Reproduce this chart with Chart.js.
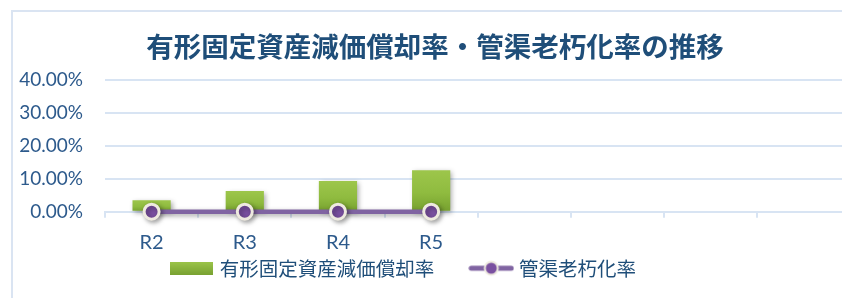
<!DOCTYPE html>
<html>
<head>
<meta charset="utf-8">
<script src="https://cdn.jsdelivr.net/npm/chart.js@4/dist/chart.umd.min.js"></script>
<style>
  html, body { margin: 0; padding: 0; background: #fff; overflow: hidden; }
  body { width: 842px; height: 298px; position: relative; }
  #box {
    position: absolute; left: 11px; top: 10px;
    border: 2px solid #DAE4F2; width: 848px; height: 290px;
  }
  canvas { display: block; }
</style>
</head>
<body>
<div id="box"><canvas id="rateChart" width="848" height="290"></canvas></div>
<script>
// categories (the chart keeps 4 empty slots on the right)
const categories = ['R2', 'R3', 'R4', 'R5', '', '', '', '']
// 有形固定資産減価償却率 (%)
const depreciationRate = [3.5, 6.3, 9.3, 12.6]
// 管渠老朽化率 (%)
const pipeAgingRate = [0, 0, 0, 0]
const yTickValues = [0, 10, 20, 30, 40]

const titleText = '有形固定資産減価償却率・管渠老朽化率の推移'
const barLabel = '有形固定資産減価償却率'
const lineLabel = '管渠老朽化率'

const navy = '#1F4E79'
const tickBlue = '#2D5A8C'
const gridBlue = '#D8E4F3'
const purple = '#8064A2'

// legend swatches drawn once
function makeBarSwatch() {
  const c = document.createElement('canvas')
  c.width = 43
  c.height = 13
  const g = c.getContext('2d')
  const grad = g.createLinearGradient(0, 0, 0, 13)
  grad.addColorStop(0, '#9CC54A')
  grad.addColorStop(1, '#79A232')
  g.fillStyle = grad
  g.fillRect(0, 0, 43, 13)
  return c
}
function makeLineSwatch() {
  const c = document.createElement('canvas')
  c.width = 46
  c.height = 18
  const g = c.getContext('2d')
  g.strokeStyle = purple
  g.lineWidth = 5
  g.lineCap = 'round'
  g.beginPath()
  g.moveTo(3, 9)
  g.lineTo(43, 9)
  g.stroke()
  g.beginPath()
  g.arc(23, 9, 6.5, 0, Math.PI * 2)
  g.fillStyle = '#7A50A0'
  g.fill()
  g.lineWidth = 2
  g.strokeStyle = '#EEEADF'
  g.stroke()
  return c
}
const swatches = [makeBarSwatch(), makeLineSwatch()]

function barFill(context) {
  const chart = context.chart
  if (!chart.chartArea || context.type !== 'data' || !context.parsed) return '#8DB83E'
  const yScale = chart.scales.y
  const top = yScale.getPixelForValue(context.parsed.y)
  const bottom = yScale.getPixelForValue(0)
  if (!isFinite(top) || top === bottom) return '#8DB83E'
  const grad = chart.ctx.createLinearGradient(0, top, 0, bottom)
  grad.addColorStop(0, '#9DC64B')
  grad.addColorStop(0.55, '#8FBB3F')
  grad.addColorStop(1, '#76A02F')
  return grad
}

// soft drop shadow like the office chart
const shadowPlugin = {
  id: 'shadow',
  beforeDatasetDraw(chart) {
    const ctx = chart.ctx
    ctx.save()
    ctx.shadowColor = 'rgba(0,0,0,0.35)'
    ctx.shadowBlur = 5
    ctx.shadowOffsetX = 2
    ctx.shadowOffsetY = 2
  },
  afterDatasetDraw(chart) {
    chart.ctx.restore()
  },
}

// legend in the reference sits left of centre and close under the axis labels
const legendDx = -30
const legendTop = 207.5
const legendPlacePlugin = {
  id: 'legendPlace',
  afterLayout(chart) {
    const lg = chart.legend
    if (!lg) return
    lg.left += legendDx
    lg.right += legendDx
    lg.top = legendTop
    lg.bottom = chart.height
    lg.height = lg.bottom - lg.top
  },
}

const ctx = document.getElementById('rateChart').getContext('2d')
new Chart(ctx, {
  type: 'bar',
  data: {
    labels: categories,
    datasets: [
      {
        type: 'bar',
        label: barLabel,
        data: depreciationRate,
        backgroundColor: barFill,
        borderWidth: 0,
        barPercentage: 0.41,
        categoryPercentage: 1,
        clip: false,
        order: 2,
      },
      {
        type: 'line',
        label: lineLabel,
        data: pipeAgingRate,
        borderColor: purple,
        borderWidth: 4.5,
        pointRadius: 7.5,
        pointBackgroundColor: '#7A50A0',
        pointBorderColor: '#EEEADF',
        pointBorderWidth: 3,
        tension: 0,
        clip: false,
        order: 1,
      },
    ],
  },
  options: {
    responsive: false,
    animation: false,
    layout: { padding: { left: 0, right: 4, top: 0, bottom: 16.3 } },
    scales: {
      x: {
        offset: true,
        grid: {
          offset: true,
          drawOnChartArea: false,
          drawTicks: true,
          tickLength: 6,
          color: gridBlue,
          lineWidth: 2,
        },
        border: { display: true, color: gridBlue, width: 2 },
        ticks: {
          color: tickBlue,
          font: { family: 'Lato', size: 20 },
          padding: 13,
          maxRotation: 0,
          autoSkip: false,
        },
        afterFit(scale) {
          scale.height = 44
        },
      },
      y: {
        min: 0,
        max: 40,
        afterBuildTicks(scale) {
          scale.ticks = yTickValues.map((v) => ({ value: v }))
        },
        grid: { color: gridBlue, lineWidth: 2, drawTicks: false },
        border: { display: false },
        ticks: {
          color: tickBlue,
          font: { family: 'Lato', size: 19 },
          padding: 22,
          callback: (v) => v.toFixed(2) + '%',
        },
        afterFit(scale) {
          scale.width = 92
        },
      },
    },
    plugins: {
      title: {
        display: true,
        text: titleText,
        color: navy,
        font: { family: 'Noto Sans CJK JP', size: 27.5, weight: 'bold' },
        padding: { top: 18.5, bottom: 16.5 },
      },
      legend: {
        display: true,
        position: 'bottom',
        maxHeight: 30,
        labels: {
          color: navy,
          font: { family: 'Noto Sans CJK JP', size: 19.5 },
          usePointStyle: true,
          pointStyleWidth: 36,
          padding: 39,
          generateLabels(chart) {
            const items = Chart.defaults.plugins.legend.labels.generateLabels(chart)
            items.sort((a, b) => a.datasetIndex - b.datasetIndex)
            items.forEach((it) => {
              it.pointStyle = swatches[it.datasetIndex]
            })
            return items
          },
        },
      },
      tooltip: { enabled: false },
    },
  },
  plugins: [shadowPlugin, legendPlacePlugin],
})
</script>
</body>
</html>
